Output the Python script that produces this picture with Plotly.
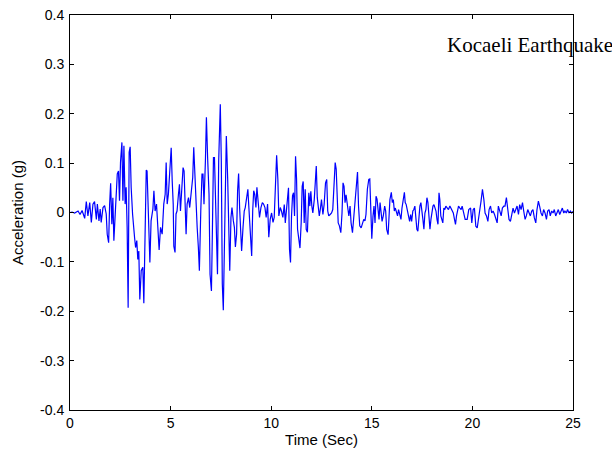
import plotly.graph_objects as go

# Ground acceleration record, Kocaeli earthquake (time in s, acceleration in g)
time_s = [
    0.00, 0.10, 0.23, 0.40, 0.50, 0.60, 0.66, 0.73, 0.81, 0.89, 0.98, 1.06, 1.14, 1.22, 1.31, 1.36,
    1.44, 1.50, 1.55, 1.64, 1.72, 1.80, 1.85, 1.92, 1.97, 2.02, 2.08, 2.13, 2.18, 2.25, 2.30, 2.35,
    2.41, 2.46, 2.51, 2.58, 2.63, 2.68, 2.74, 2.79, 2.84, 2.89, 2.94, 2.99, 3.04, 3.11, 3.21, 3.26,
    3.32, 3.37, 3.42, 3.47, 3.54, 3.62, 3.67, 3.74, 3.79, 3.83, 3.90, 3.97, 4.03, 4.12, 4.17, 4.23,
    4.30, 4.36, 4.43, 4.50, 4.58, 4.66, 4.73, 4.78, 4.83, 4.89,
    4.94, 5.03, 5.08, 5.13, 5.16, 5.22, 5.27, 5.32, 5.39, 5.44, 5.49, 5.56, 5.62, 5.67, 5.72, 5.77,
    5.82, 5.89, 5.95, 6.02, 6.10, 6.15, 6.22, 6.27, 6.32, 6.38, 6.43, 6.50, 6.56, 6.61, 6.66, 6.73,
    6.78, 6.84, 6.91, 6.96, 7.03, 7.08, 7.13, 7.18, 7.23, 7.28, 7.33, 7.39, 7.47, 7.52, 7.57, 7.62,
    7.67, 7.72, 7.77, 7.84, 7.89, 7.94, 8.00, 8.05, 8.12, 8.17, 8.22, 8.28, 8.33, 8.38, 8.43, 8.48,
    8.53, 8.60, 8.66, 8.71, 8.78, 8.84, 8.89, 8.96, 9.03, 9.08, 9.13, 9.18, 9.24, 9.29, 9.36, 9.42,
    9.49, 9.56, 9.62, 9.69, 9.75, 9.82, 9.88,
    9.95, 10.02, 10.09, 10.15, 10.22, 10.27, 10.33, 10.38, 10.45, 10.51, 10.58, 10.65, 10.70, 10.76,
    10.81, 10.86, 10.91, 10.96, 11.01, 11.06, 11.11, 11.16, 11.21, 11.26, 11.31, 11.38, 11.43, 11.49,
    11.54, 11.59, 11.64, 11.69, 11.74, 11.80, 11.87, 11.92, 11.97, 12.02, 12.07, 12.14, 12.19, 12.24,
    12.29, 12.34, 12.39, 12.44, 12.50, 12.57, 12.63, 12.70, 12.76, 12.81, 12.86, 12.93, 13.00, 13.06,
    13.11, 13.18, 13.23, 13.28, 13.33, 13.39, 13.46, 13.52, 13.57, 13.62, 13.67, 13.72, 13.79, 13.86,
    13.92, 13.97, 14.04, 14.09, 14.14, 14.19, 14.24, 14.29, 14.34, 14.40, 14.47, 14.53, 14.60, 14.66,
    14.71, 14.78,
    14.85, 14.90, 14.95, 15.00, 15.06, 15.11, 15.16, 15.21, 15.26, 15.31, 15.36, 15.41, 15.46, 15.51,
    15.57, 15.64, 15.69, 15.74, 15.81, 15.85, 15.90, 15.97, 16.02, 16.07, 16.12, 16.17, 16.24, 16.28,
    16.33, 16.38, 16.45, 16.50, 16.57, 16.62, 16.66, 16.71, 16.76, 16.83, 16.88, 16.93, 16.98, 17.04,
    17.09, 17.14, 17.19, 17.24, 17.29, 17.34, 17.39, 17.44, 17.49, 17.54, 17.59, 17.64, 17.69, 17.74,
    17.79, 17.84, 17.89, 17.94, 17.99, 18.04, 18.09, 18.14, 18.19, 18.24, 18.29, 18.34, 18.38, 18.43,
    18.48, 18.53, 18.58, 18.63, 18.68, 18.75, 18.81, 18.88, 18.93, 19.00, 19.05, 19.11, 19.16, 19.21,
    19.26, 19.31, 19.38, 19.44, 19.49, 19.54, 19.59, 19.64, 19.69,
    19.74, 19.82, 19.91, 19.97, 20.04, 20.10, 20.17, 20.24, 20.30, 20.37, 20.43, 20.50, 20.57, 20.63,
    20.70, 20.77, 20.83, 20.90, 20.96, 21.03, 21.10, 21.16, 21.23, 21.29, 21.36, 21.43, 21.49, 21.56,
    21.62, 21.69, 21.76, 21.82, 21.89, 21.96, 22.02, 22.09, 22.15, 22.22, 22.29, 22.35, 22.42, 22.49,
    22.55, 22.62, 22.68, 22.75, 22.82, 22.88, 22.95, 23.01, 23.08, 23.15, 23.21, 23.28, 23.34, 23.41,
    23.48, 23.54, 23.61, 23.68, 23.74, 23.81, 23.87, 23.94, 24.01, 24.07, 24.14, 24.20, 24.27, 24.34,
    24.40, 24.47, 24.54, 24.60, 24.67, 24.73, 24.80, 24.87, 24.93, 25.00,
]

accel_g = [
    0.000, 0.001, -0.001, 0.003, -0.004, 0.004, -0.003, -0.012, 0.022, -0.007, 0.020, -0.020, 0.017, 0.022, -0.014, 0.017,
    -0.017, 0.007, -0.020, 0.010, 0.014, -0.003, -0.044, -0.061, 0.017, 0.059, -0.024, 0.030, -0.057, 0.010, 0.027, 0.078,
    0.084, 0.024, 0.101, 0.142, 0.024, 0.135, 0.017, 0.051, -0.030, -0.193, 0.122, 0.133, 0.051, -0.003, -0.051, -0.071,
    -0.057, -0.095, -0.078, -0.176, -0.118, -0.111, -0.184, -0.044, 0.086, 0.084, -0.010, -0.101, -0.017, 0.007, 0.044, 0.003,
    0.017, -0.017, -0.076, -0.030, -0.044, 0.017, 0.037, 0.101, 0.017, 0.037,
    0.071, 0.131, 0.064, 0.017, -0.068, -0.081, -0.003, 0.003, 0.037, 0.057, 0.003, 0.044, 0.091, 0.084, 0.010, -0.044,
    0.017, 0.030, 0.010, 0.037, 0.071, 0.132, 0.054, 0.003, -0.030, -0.071, -0.118, 0.003, 0.078, 0.078, 0.017, 0.105,
    0.193, 0.111, 0.037, -0.125, -0.159, -0.030, 0.111, 0.111, 0.017, -0.057, -0.125, 0.105, 0.219, 0.105, -0.145, -0.198,
    -0.064, 0.074, 0.155, 0.064, -0.044, -0.118, -0.010, 0.010, -0.017, -0.030, -0.070, -0.044, 0.044, 0.079, 0.010, -0.057,
    -0.078, -0.030, 0.003, 0.010, 0.034, 0.047, 0.010, -0.044, -0.088, 0.003, 0.044, 0.037, 0.010, 0.051, 0.010, -0.010,
    0.010, 0.020, 0.017, 0.010, -0.010, 0.017, -0.050,
    -0.014, -0.001, -0.020, -0.010, 0.074, 0.116, 0.068, -0.007, 0.010, 0.003, -0.010, 0.016, -0.021, 0.013,
    0.040, 0.050, -0.075, -0.101, -0.007, 0.034, 0.040, -0.007, 0.114, 0.068, -0.034, -0.055, -0.072, -0.021,
    0.053, 0.063, -0.021, 0.047, -0.034, -0.040, 0.040, 0.013, 0.043, 0.013, -0.001, 0.026, 0.074, 0.094,
    0.030, 0.013, -0.007, 0.006, 0.026, -0.004, 0.016, 0.060, 0.067, 0.003, -0.007, -0.004, -0.001, 0.006,
    0.047, 0.101, 0.088, 0.027, -0.021, -0.027, -0.041, -0.001, 0.060, 0.053, 0.020, 0.036, 0.013, -0.007,
    0.013, -0.021, -0.041, -0.014, 0.013, 0.040, 0.074, 0.082, 0.013, -0.027, -0.031, -0.024, -0.014, -0.017,
    -0.004, 0.047,
    0.067, 0.068, -0.007, -0.053, -0.007, 0.013, -0.021, 0.033, 0.027, 0.006, -0.014, 0.020, 0.006, -0.018,
    -0.007, 0.013, 0.003, -0.034, -0.045, -0.007, 0.026, 0.041, 0.020, 0.026, 0.003, 0.009, -0.001, -0.007,
    0.006, -0.004, -0.014, 0.009, 0.033, 0.041, 0.020, 0.016, 0.006, -0.014, -0.018, -0.004, -0.018, 0.003,
    0.006, 0.013, -0.007, -0.034, -0.038, -0.007, 0.013, 0.020, 0.006, -0.014, -0.034, -0.001, 0.006, 0.030,
    0.020, -0.007, -0.034, -0.014, 0.003, 0.013, 0.016, 0.009, 0.003, -0.014, -0.024, 0.040, 0.026, -0.007,
    -0.018, -0.021, 0.009, 0.006, 0.013, 0.009, 0.006, 0.013, 0.009, 0.003, -0.001, -0.014, -0.024, -0.007,
    0.006, 0.013, 0.009, 0.006, 0.013, 0.003, -0.004, -0.014, -0.014,
    -0.014, 0.006, 0.009, -0.021, 0.006, 0.009, -0.028, -0.031, -0.007, 0.006, 0.023, 0.047, 0.026, -0.001,
    -0.007, -0.018, 0.006, 0.013, -0.001, 0.003, -0.004, -0.014, -0.021, 0.013, 0.003, -0.007, 0.009, 0.013,
    0.013, 0.030, 0.006, -0.014, -0.018, -0.001, 0.009, -0.001, 0.006, 0.013, -0.004, 0.016, 0.006, 0.020,
    0.003, -0.014, -0.007, 0.006, -0.001, -0.007, 0.003, 0.006, -0.011, -0.021, 0.006, 0.023, 0.013, -0.001,
    -0.007, 0.006, -0.001, -0.014, 0.003, 0.006, -0.007, 0.003, -0.001, 0.006, -0.007, -0.001, 0.006, -0.004,
    0.003, 0.009, -0.001, 0.003, -0.001, 0.006, -0.001, 0.003, -0.001, 0.002,
]

x_ticks = [0, 5, 10, 15, 20, 25]
y_ticks = [-0.4, -0.3, -0.2, -0.1, 0, 0.1, 0.2, 0.3, 0.4]
y_tick_text = ["-0.4", "-0.3", "-0.2", "-0.1", "0", "0.1", "0.2", "0.3", "0.4"]

fig = go.Figure(
    go.Scatter(
        x=time_s,
        y=accel_g,
        mode="lines",
        line=dict(color="#0000FF", width=1.2),
        showlegend=False,
    )
)

tick_font = dict(family="Liberation Sans, Arial, sans-serif", size=14, color="black")
title_font = dict(family="Liberation Sans, Arial, sans-serif", size=15, color="black")

fig.update_layout(
    width=612,
    height=450,
    margin=dict(l=70, r=39, t=15, b=40, autoexpand=False),
    paper_bgcolor="white",
    plot_bgcolor="white",
    font=tick_font,
    xaxis=dict(
        range=[0, 25],
        tickvals=x_ticks,
        ticks="inside",
        ticklen=4,
        tickcolor="black",
        showline=True,
        linecolor="black",
        linewidth=1,
        mirror="ticks",
        showgrid=False,
        zeroline=False,
        automargin=False,
        tickfont=tick_font,
        ticklabelstandoff=0,
        title=dict(text="Time (Sec)", font=title_font, standoff=4),
    ),
    yaxis=dict(
        range=[-0.4, 0.4],
        tickvals=y_ticks,
        ticktext=y_tick_text,
        ticks="inside",
        ticklen=4,
        tickcolor="black",
        showline=True,
        linecolor="black",
        linewidth=1,
        mirror="ticks",
        showgrid=False,
        zeroline=False,
        automargin=False,
        tickfont=tick_font,
        ticklabelstandoff=2,
        title=dict(text="Acceleration (g)", font=title_font, standoff=12),
    ),
    annotations=[
        dict(
            text="Kocaeli Earthquake",
            xref="paper",
            yref="paper",
            x=0.7455,
            y=0.925,
            xanchor="left",
            yanchor="middle",
            showarrow=False,
            font=dict(family="Liberation Serif, Times New Roman, serif", size=21, color="black"),
        )
    ],
)

fig.write_html("out.html")
